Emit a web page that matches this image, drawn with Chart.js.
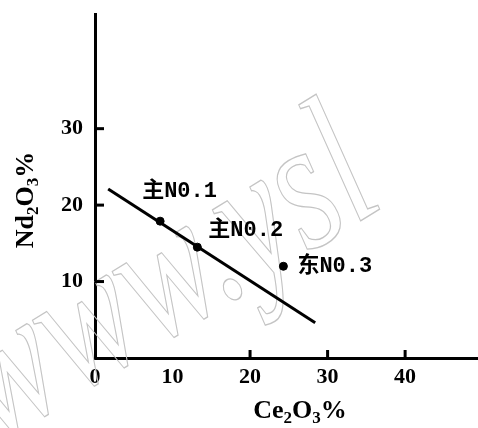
<!DOCTYPE html>
<html>
<head>
<meta charset="utf-8">
<script src="https://cdn.jsdelivr.net/npm/chart.js@4"></script>
<style>
  html, body { margin: 0; padding: 0; background: #fff; }
  canvas { display: block; }
</style>
</head>
<body>
<canvas id="c" width="478" height="428"></canvas>
<script>
// 数据
const lineXs = [1.7, 28.4];
const lineYs = [22.1, 4.6];
const sampleNames = ["主N0.1", "主N0.2", "东N0.3"];
const sampleXs = [8.4, 13.2, 24.3];
const sampleYs = [17.9, 14.5, 12.0];
const xTickLabels = [0, 10, 20, 30, 40];
const yTickLabels = [10, 20, 30];
const xTickMarks = [20, 30, 40];
const yTickMarks = [10, 20, 30];

const serif = "'Liberation Serif', 'DejaVu Serif', serif";

// 下标文字: [text, isSub]
function drawSubText(ctx, parts, cx, baseY) {
  const big = "bold 26px " + serif, small = "bold 17px " + serif;
  let w = 0;
  parts.forEach(p => { ctx.font = p[1] ? small : big; w += ctx.measureText(p[0]).width; });
  let x = cx - w / 2;
  ctx.textAlign = "left";
  ctx.textBaseline = "alphabetic";
  parts.forEach(p => {
    ctx.font = p[1] ? small : big;
    ctx.fillText(p[0], x, p[1] ? baseY + 5 : baseY);
    x += ctx.measureText(p[0]).width;
  });
}

const decor = {
  id: "decor",
  beforeDatasetsDraw(chart) {
    const ctx = chart.ctx;
    // 水印
    ctx.save();
    ctx.translate(-5, 445);
    ctx.rotate(-0.55);
    ctx.scale(1, 1.35);
    ctx.font = "italic 140px " + serif;
    ctx.strokeStyle = "#c4c4c4";
    ctx.lineWidth = 1;
    ctx.strokeText("www.ysl", 0, 0);
    ctx.restore();
  },
  afterDatasetsDraw(chart) {
    const ctx = chart.ctx;
    const xs = chart.scales.x, ys = chart.scales.y;
    ctx.save();
    ctx.strokeStyle = "#000";
    ctx.lineWidth = 3;
    // 内侧刻度
    xTickMarks.forEach(v => {
      const px = xs.getPixelForValue(v);
      ctx.beginPath(); ctx.moveTo(px, ys.bottom); ctx.lineTo(px, ys.bottom - 8); ctx.stroke();
    });
    yTickMarks.forEach(v => {
      const py = ys.getPixelForValue(v);
      ctx.beginPath(); ctx.moveTo(xs.left, py); ctx.lineTo(xs.left + 9, py); ctx.stroke();
    });
    // 样品标注
    const meta = chart.getDatasetMeta(1);
    const offs = [[-18, -30], [11, -17], [14, 0]];
    ctx.fillStyle = "#000";
    ctx.font = "bold 22px 'Liberation Mono', 'Noto Sans CJK SC', monospace";
    ctx.textAlign = "left";
    ctx.textBaseline = "middle";
    meta.data.forEach((pt, i) => {
      ctx.fillText(sampleNames[i], pt.x + offs[i][0], pt.y + offs[i][1]);
    });
    // 轴标题
    drawSubText(ctx, [["Ce", 0], ["2", 1], ["O", 0], ["3", 1], ["%", 0]], 300, 418);
    ctx.save();
    ctx.translate(33, 200);
    ctx.rotate(-Math.PI / 2);
    drawSubText(ctx, [["Nd", 0], ["2", 1], ["O", 0], ["3", 1], ["%", 0]], 0, 0);
    ctx.restore();
    ctx.restore();
  }
};

new Chart(document.getElementById("c"), {
  type: "scatter",
  data: {
    datasets: [
      {
        data: lineXs.map((x, i) => ({ x: x, y: lineYs[i] })),
        showLine: true,
        borderColor: "#000",
        borderWidth: 3,
        pointRadius: 0
      },
      {
        data: sampleXs.map((x, i) => ({ x: x, y: sampleYs[i] })),
        pointRadius: 4,
        pointBackgroundColor: "#000",
        pointBorderColor: "#000"
      }
    ]
  },
  options: {
    responsive: false,
    animation: false,
    layout: { autoPadding: false, padding: { top: 14, right: 0, left: 0, bottom: 0 } },
    plugins: { legend: { display: false }, tooltip: { enabled: false } },
    scales: {
      x: {
        type: "linear", min: 0, max: 49.4,
        afterBuildTicks: s => { s.ticks = xTickLabels.map(v => ({ value: v })); },
        afterFit: s => { s.height = 70; s.paddingLeft = 0; s.paddingRight = 0; },
        grid: { display: false, drawTicks: false },
        border: { display: true, color: "#000", width: 3 },
        ticks: { color: "#000", padding: 6, font: { family: serif, size: 22, weight: "bold" } }
      },
      y: {
        type: "linear", min: 0, max: 45,
        afterBuildTicks: s => { s.ticks = yTickLabels.map(v => ({ value: v })); },
        afterFit: s => { s.width = 95; s.paddingTop = 0; s.paddingBottom = 0; },
        grid: { display: false, drawTicks: false },
        border: { display: true, color: "#000", width: 3 },
        ticks: { color: "#000", padding: 12, font: { family: serif, size: 22, weight: "bold" } }
      }
    }
  },
  plugins: [decor]
});
</script>
</body>
</html>
